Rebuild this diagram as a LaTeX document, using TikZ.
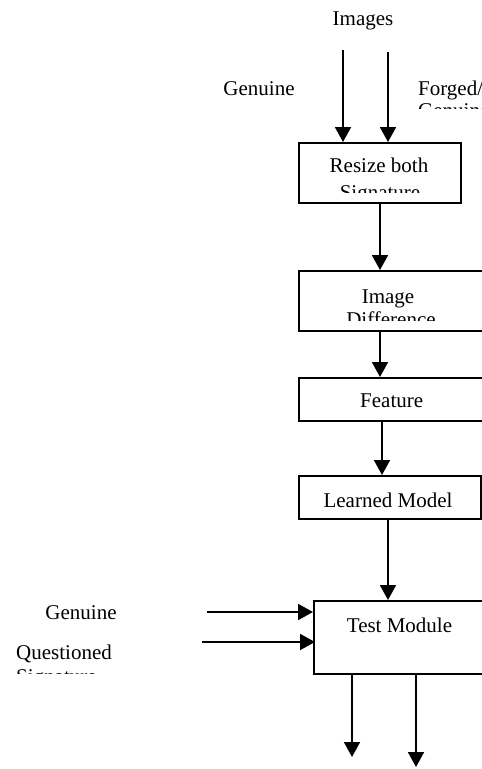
\documentclass[tikz,border=0pt]{standalone}
\usepackage{fontspec}
\setmainfont{Liberation Serif}
\usetikzlibrary{arrows.meta}
\tikzset{
  box/.style={draw=black, line width=1.8pt, rectangle, anchor=north west, inner sep=0pt, fill=none},
  arr/.style={line width=1.9pt, -{Triangle[width=16pt,length=15pt]}},
  lbl/.style={anchor=base, inner sep=0pt, font=\fontsize{21}{24}\selectfont},
  lblw/.style={anchor=base west, inner sep=0pt, font=\fontsize{21}{24}\selectfont}
}
\begin{document}
\begin{tikzpicture}[x=1pt,y=-1pt]
\useasboundingbox (0,0) rectangle (482,769);
\clip (0,0) rectangle (482,769);
\fill[white] (0,0) rectangle (482,769);

% boxes
\node[box, minimum width=162pt, minimum height=60pt] (b1) at (298,142) {};
\node[box, minimum width=188pt, minimum height=60pt] (b2) at (298,270) {};
\node[box, minimum width=188pt, minimum height=43pt] (b3) at (298,377) {};
\node[box, minimum width=182pt, minimum height=43pt] (b4) at (298,475) {};
\node[box, minimum width=175pt, minimum height=73pt] (b5) at (313,600) {};

% top labels
\node[lbl] (timg) at (363,25) {Images};
\node[lbl] (tgen) at (259,95) {Genuine};
\begin{scope}
\clip (400,60) rectangle (482,108);
\node[lblw] (tforg) at (418,95) {Forged/};
\node[lblw] (tforg2) at (418,117) {Genuine};
\end{scope}

% box texts
\begin{scope}
\clip (300,144) rectangle (458,192);
\node[lbl] (t1a) at (379,172.7) {Resize both};
\node[lbl] (t1b) at (380,199) {Signature};
\end{scope}
\begin{scope}
\clip (300,272) rectangle (482,320);
\node[lbl] (t2a) at (388,303) {Image};
\node[lbl] (t2b) at (391,326) {Difference};
\end{scope}
\node[lbl] (t3) at (391.7,407.7) {Feature};
\node[lbl] (t4) at (388,507) {Learned Model};
\node[lbl] (t5) at (399.5,632) {Test Module};

% left labels
\node[lbl] (tg2) at (81,619) {Genuine};
\begin{scope}
\clip (0,630) rectangle (200,673);
\node[lblw] (tq) at (16,659) {Questioned};
\node[lblw] (tq2) at (16,683) {Signature};
\end{scope}

% coordinates
\coordinate (i1) at (343,50);
\coordinate (i2) at (388,52);
\coordinate (x1) at (380,0);
\coordinate (x2) at (382,0);
\coordinate (x3) at (388,0);
\coordinate (g1) at (207,612);
\coordinate (q1) at (202,642);
\coordinate (o1) at (352,757);
\coordinate (o2) at (416,767);

% arrows
\draw[arr] (i1) -- (i1 |- b1.north);
\draw[arr] (i2) -- (i2 |- b1.north);
\draw[arr] (b1.south -| x1) -- (b2.north -| x1);
\draw[arr] (b2.south -| x1) -- (b3.north -| x1);
\draw[arr] (b3.south -| x2) -- (b4.north -| x2);
\draw[arr] (b4.south -| x3) -- (b5.north -| x3);
\draw[arr] (g1) -- (g1 -| b5.west);
\draw[arr] (q1) -- ([xshift=2pt]q1 -| b5.west);
\draw[arr] (o1 |- b5.south) -- (o1);
\draw[arr] (o2 |- b5.south) -- (o2);
\end{tikzpicture}
\end{document}
